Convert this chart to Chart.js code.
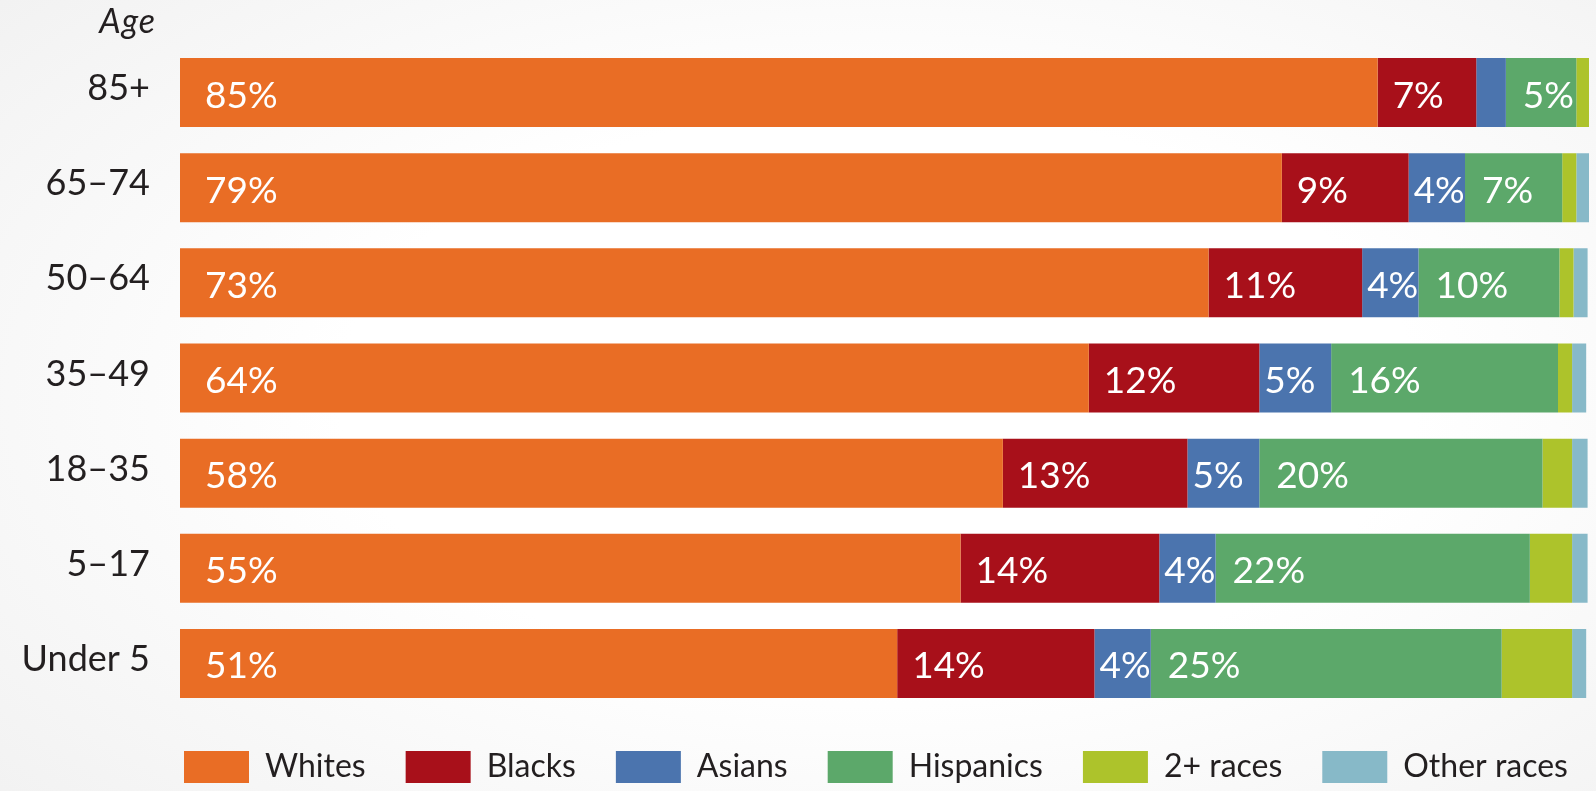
<!DOCTYPE html>
<html>
<head>
<meta charset="utf-8">
<script src="https://cdn.jsdelivr.net/npm/chart.js@4.4.0/dist/chart.umd.min.js"></script>
<style>
  html, body { margin: 0; padding: 0; }
  body {
    width: 1596px; height: 791px; overflow: hidden;
    background: radial-gradient(ellipse 75% 80% at 55% 50%, #ffffff 45%, #f1f1f1 100%);
  }
  #c { position: absolute; left: 0; top: 0; }
</style>
</head>
<body>
<canvas id="c" width="1596" height="791"></canvas>
<script>
// ---- data ----
const categories = ['85+', '65–74', '50–64', '35–49', '18–35', '5–17', 'Under 5'];
const seriesNames = ['Whites', 'Blacks', 'Asians', 'Hispanics', '2+ races', 'Other races'];
const whites    = [85.0, 78.2, 73.0, 64.5, 58.4, 55.4, 50.9];
const blacks    = [7.0, 9.0, 10.9, 12.1, 13.1, 14.1, 14.0];
const asians    = [2.1, 4.0, 4.0, 5.1, 5.1, 4.0, 4.0];
const hispanics = [5.0, 6.9, 10.0, 16.1, 20.1, 22.3, 24.9];
const twoPlus   = [1.0, 1.0, 1.0, 1.0, 2.1, 3.0, 5.0];
const others    = [0.0, 1.0, 1.0, 1.0, 1.1, 1.1, 1.0];
// printed value labels (null = no label shown)
const whitesLabels    = [85, 79, 73, 64, 58, 55, 51];
const blacksLabels    = [7, 9, 11, 12, 13, 14, 14];
const asiansLabels    = [null, 4, 4, 5, 5, 4, 4];
const hispanicsLabels = [5, 7, 10, 16, 20, 22, 25];
const axisTitle = 'Age';

const colors = ['#E96D25', '#A8101A', '#4B74AE', '#5CA86A', '#ADC32B', '#87B9C8'];
const values = [whites, blacks, asians, hispanics, twoPlus, others];
const labelSets = [whitesLabels, blacksLabels, asiansLabels, hispanicsLabels, null, null];
const labelPads = [25, 15, 5, 17, 0, 0];

const FONT = 'Lato, "Open Sans", "DejaVu Sans", sans-serif';
const TEXT = '#231f20';
const LEGEND_LEFT = 144;

const valueLabels = {
  id: 'valueLabels',
  afterLayout(chart) {
    if (chart.legend) {
      const w = chart.legend.right - chart.legend.left;
      chart.legend.left = LEGEND_LEFT;
      chart.legend.right = LEGEND_LEFT + w;
    }
  },
  afterDatasetsDraw(chart) {
    const ctx = chart.ctx;
    ctx.save();
    ctx.fillStyle = '#ffffff';
    ctx.font = '400 37px ' + FONT;
    ctx.textAlign = 'left';
    ctx.textBaseline = 'middle';
    chart.data.datasets.forEach((ds, i) => {
      const labs = labelSets[i];
      if (!labs) return;
      const meta = chart.getDatasetMeta(i);
      meta.data.forEach((bar, j) => {
        const v = labs[j];
        if (v === null || v === undefined) return;
        const p = bar.getProps(['x', 'y', 'base'], true);
        ctx.fillText(v + '%', Math.min(p.base, p.x) + labelPads[i], p.y + 3);
      });
    });
    // axis title "Age"
    ctx.fillStyle = TEXT;
    ctx.font = 'italic 400 34px ' + FONT;
    ctx.textAlign = 'right';
    ctx.textBaseline = 'alphabetic';
    if ('letterSpacing' in ctx) ctx.letterSpacing = '1px';
    ctx.fillText(axisTitle, chart.chartArea.left - 24, 33);
    ctx.restore();
  }
};

new Chart(document.getElementById('c'), {
  type: 'bar',
  data: {
    labels: categories,
    datasets: seriesNames.map((name, i) => ({
      label: name,
      data: values[i],
      backgroundColor: colors[i],
      borderWidth: 0,
      barPercentage: 0.725,
      categoryPercentage: 1.0
    }))
  },
  options: {
    indexAxis: 'y',
    responsive: false,
    maintainAspectRatio: false,
    animation: false,
    devicePixelRatio: 1,
    layout: { padding: { left: 0, right: 7, top: 45, bottom: -2 } },
    scales: {
      x: {
        stacked: true, min: 0, max: 100, display: false
      },
      y: {
        stacked: true,
        grid: { display: false, drawTicks: false },
        border: { display: false },
        ticks: {
          color: TEXT,
          font: { family: FONT, size: 36, weight: '400', lineHeight: 0.6 },
          padding: 30,
          labelOffset: -4
        },
        afterFit(scale) { scale.width = 180; }
      }
    },
    plugins: {
      legend: {
        position: 'bottom',
        align: 'start',
        fullSize: true,
        labels: {
          boxWidth: 65,
          boxHeight: 32,
          padding: 40,
          color: TEXT,
          font: { family: FONT, size: 32, weight: '400' }
        }
      },
      tooltip: { enabled: false }
    }
  },
  plugins: [valueLabels]
});
</script>
</body>
</html>
